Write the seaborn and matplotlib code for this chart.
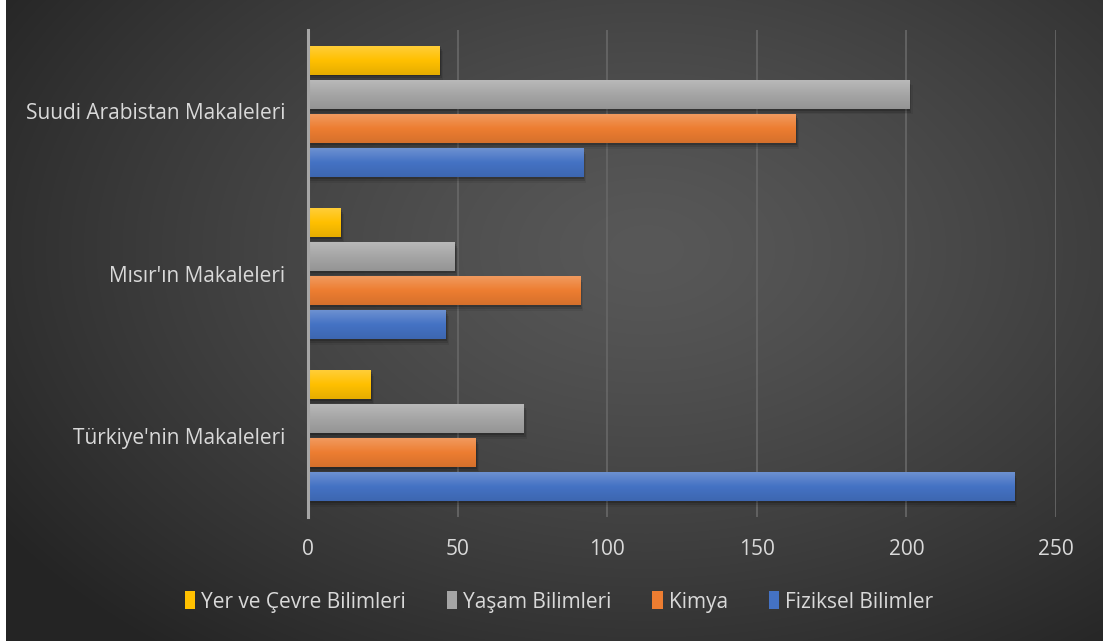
import numpy as np
import pandas as pd
import seaborn as sns
import matplotlib.pyplot as plt
from matplotlib.colors import to_rgb
from matplotlib.patches import Patch, Rectangle

categories = ["Suudi Arabistan Makaleleri", "Mısır'ın Makaleleri", "Türkiye'nin Makaleleri"]
series = ["Yer ve Çevre Bilimleri", "Yaşam Bilimleri", "Kimya", "Fiziksel Bilimler"]
yer_cevre = [44, 11, 21]
yasam = [201, 49, 72]
kimya = [163, 91, 56]
fiziksel = [92, 46, 236]
x_ticks = [0, 50, 100, 150, 200, 250]

colors = ["#FFC000", "#A5A5A5", "#ED7D31", "#4472C4"]
text_color = "#d9d9d9"

W, H = 1103, 643


def shade(color, amount):
    c = np.array(to_rgb(color))
    if amount > 0:
        return c + (1 - c) * amount
    return c * (1 + amount)


def draw_background(fig):
    bg = fig.add_axes([6 / W, 2 / H, (W - 6) / W, (H - 2) / H], zorder=-10)
    yy, xx = np.mgrid[0:H, 0:W - 6]
    r = np.sqrt(((xx - 640) / 650.0) ** 2 + ((yy - 250) / 430.0) ** 2)
    v = (88 - 52 * np.clip(r, 0, 1.2) ** 1.3 / 1.2 ** 1.3) / 255.0
    img = np.dstack([v, v, v])
    bg.imshow(img, aspect="auto", interpolation="bilinear")
    bg.set_axis_off()


def gradient_bars(ax):
    for patch in list(ax.patches):
        x0, y0 = patch.get_x(), patch.get_y()
        w, h = patch.get_width(), patch.get_height()
        if w <= 0:
            continue
        base = patch.get_facecolor()[:3]
        # soft shadow below and to the right
        for i, a in enumerate([0.18, 0.12, 0.07]):
            off = (i + 1) * 0.35
            ax.add_patch(Rectangle((x0, y0 + 0.012 * (i + 1)), w + off, h,
                                   facecolor="black", alpha=a, lw=0, zorder=1))
        top = shade(base, 0.22)
        mid = np.array(base)
        bot = shade(base, -0.1)
        n = 64
        t = np.linspace(0, 1, n)[:, None]
        col = np.where(t < 0.5, top + (mid - top) * (t / 0.5), mid + (bot - mid) * ((t - 0.5) / 0.5))
        img = col[:, None, :].repeat(2, axis=1)
        im = ax.imshow(img, extent=(x0, x0 + w, y0 + h, y0), aspect="auto",
                       origin="upper", zorder=3, interpolation="bilinear")
        im.set_clip_path(patch)
        patch.set_zorder(2)


df = pd.DataFrame({
    "category": categories * 4,
    "series": [s for s in series for _ in categories],
    "value": yer_cevre + yasam + kimya + fiziksel,
})

sns.set_theme(style="white")
plt.rcParams["font.family"] = ["Open Sans", "DejaVu Sans"]

fig = plt.figure(figsize=(W / 100, H / 100), dpi=100)
fig.patch.set_facecolor("white")
draw_background(fig)

ax = fig.add_axes([308 / W, 1 - 517 / H, (1056 - 308) / W, (517 - 30) / H])
ax.set_facecolor("none")
sns.barplot(data=df, x="value", y="category", hue="series", order=categories,
            hue_order=series, palette=colors, orient="h", width=0.84, gap=0.15,
            legend=False, saturation=1, ax=ax, linewidth=0)

ax.set_xlim(0, 250)
ax.set_ylim(2.5, -0.5)
ax.set_xticks(x_ticks)
ax.set_xticklabels([str(t) for t in x_ticks])
ax.xaxis.grid(True, color="#666666", lw=1.4, alpha=0.9)
ax.set_axisbelow(True)
for s in ["top", "right", "bottom"]:
    ax.spines[s].set_visible(False)
ax.spines["left"].set_color("#a6a6a6")
ax.spines["left"].set_linewidth(2.2)
ax.spines["left"].set_zorder(5)
ax.tick_params(axis="both", length=0, colors=text_color, labelsize=15)
ax.tick_params(axis="x", pad=16)
ax.tick_params(axis="y", pad=16.5)
ax.set_xlabel("")
ax.set_ylabel("")

gradient_bars(ax)

handles = [Patch(facecolor=c, edgecolor="none", label=s) for c, s in zip(colors, series)]
leg = fig.legend(handles=handles, loc="center", bbox_to_anchor=(559 / W, 1 - 602 / H),
                 ncol=4, frameon=False, fontsize=15, handlelength=0.5,
                 handleheight=0.95, handletextpad=0.3, columnspacing=1.95)
for t in leg.get_texts():
    t.set_color(text_color)

fig.savefig("out.png", dpi=100)
